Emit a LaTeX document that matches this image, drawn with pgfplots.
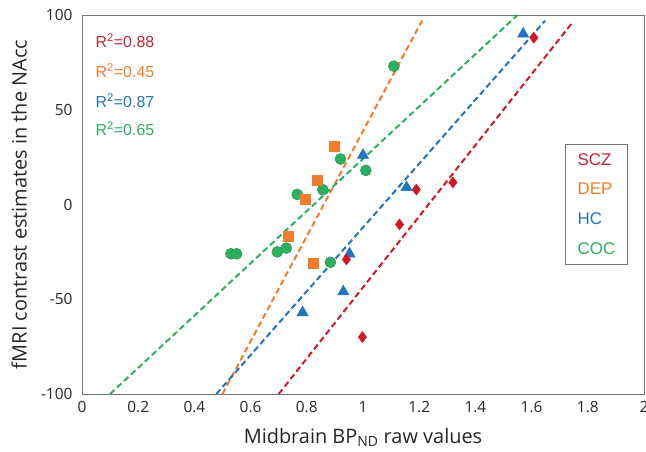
\documentclass[border=0pt]{standalone}
\usepackage{pgfplots}
\pgfplotsset{compat=1.18}
\usepackage{fontspec}
\setmainfont{Open Sans}
\newfontfamily\arial{Liberation Sans}
\definecolor{scz}{RGB}{205,25,40}
\definecolor{sczt}{RGB}{195,35,55}
\definecolor{dep}{RGB}{240,125,45}
\definecolor{hc}{RGB}{35,115,190}
\definecolor{coc}{RGB}{45,175,95}
\definecolor{frame}{RGB}{115,115,115}
\begin{document}
\begin{tikzpicture}
\useasboundingbox (-82bp,-58bp) rectangle (564bp,394bp);
\begin{axis}[
  at={(0,0)}, anchor=south west,
  scale only axis, width=562bp, height=379bp,
  xmin=0, xmax=2, ymin=-100, ymax=100,
  xtick={0,0.2,0.4,0.6,0.8,1,1.2,1.4,1.6,1.8,2},
  xticklabels={0,0.2,0.4,0.6,0.8,1,1.2,1.4,1.6,1.8,2},
  ytick={-100,-50,0,50,100},
  yticklabels={-100,-50,0,50,100},
  major tick length=0pt,
  axis line style={frame, line width=0.9bp},
  tick label style={font=\fontsize{15.5}{17}\selectfont, text=black!85},
  xticklabel style={yshift=-4bp},
  yticklabel style={xshift=-6bp},
  xlabel={Midbrain BP\textsubscript{ND} raw values},
  ylabel={fMRI contrast estimates in the NAcc},
  label style={font=\fontsize{20}{23}\selectfont, text=black!85},
  xlabel style={at={(axis description cs:0.5,-0.1135)}, anchor=center},
  ylabel style={at={(axis description cs:-0.112,0.5)}, anchor=center},
  clip=false,
  legend style={at={(rel axis cs:0.859,0.660)}, anchor=north west,
    draw=frame, line width=0.9bp, font=\arial\fontsize{17}{20}\selectfont,
    row sep=12.5bp, inner xsep=10.5bp, inner ysep=7bp},
  legend cell align=left,
  legend image code/.code={},
]
% regression lines
\addplot[forget plot, scz, line width=2bp, dash pattern=on 6bp off 3.5bp] coordinates {(0.70,-100) (1.745,96)};
\addplot[forget plot, dep, line width=2bp, dash pattern=on 6bp off 3.5bp] coordinates {(0.50,-100) (1.21,97)};
\addplot[forget plot, hc, line width=2bp, dash pattern=on 6bp off 3.5bp] coordinates {(0.478,-100) (1.648,97)};
\addplot[forget plot, coc, line width=2bp, dash pattern=on 6bp off 3.5bp] coordinates {(0.10,-100) (1.55,100)};
% COC
\addplot[forget plot, only marks, mark=*, mark size=5.5bp, coc, mark options={draw=coc!85!black, line width=0.5bp}] coordinates {
 (1.11,73) (0.92,24) (1.01,18) (0.766,5.3) (0.857,7.8) (0.53,-26) (0.55,-26)
 (0.695,-25) (0.727,-23) (0.884,-30.5)};
% DEP
\addplot[forget plot, only marks, mark=square*, mark size=5bp, dep, mark options={line width=0.5bp}] coordinates {
 (0.898,31) (0.838,12.7) (0.795,2.6) (0.735,-17) (0.824,-31)};
% HC
\addplot[forget plot, only marks, mark=triangle*, mark size=6.5bp, hc, mark options={line width=0.5bp}] coordinates {
 (1.57,90) (1.155,9) (1.0,26) (0.952,-26) (0.93,-46) (0.785,-57)};
% SCZ
\addplot[forget plot, only marks, mark=diamond*, mark size=5.5bp, scz, mark options={line width=0.5bp}] coordinates {
 (1.608,88) (1.19,7.9) (1.32,11.6) (1.13,-10.5) (0.941,-29) (0.998,-70)};
\addlegendimage{empty legend}\addlegendentry{\textcolor{sczt}{SCZ}}
\addlegendimage{empty legend}\addlegendentry{\textcolor{dep}{DEP}}
\addlegendimage{empty legend}\addlegendentry{\textcolor{hc}{HC}}
\addlegendimage{empty legend}\addlegendentry{\textcolor{coc}{COC}}
\node[anchor=west, font=\arial\fontsize{16}{18}\selectfont, text=sczt, inner sep=0pt] at (axis cs:0.048,86.5) {R\textsuperscript{2}=0.88};
\node[anchor=west, font=\arial\fontsize{16}{18}\selectfont, text=dep, inner sep=0pt] at (axis cs:0.048,70.7) {R\textsuperscript{2}=0.45};
\node[anchor=west, font=\arial\fontsize{16}{18}\selectfont, text=hc, inner sep=0pt] at (axis cs:0.048,54.9) {R\textsuperscript{2}=0.87};
\node[anchor=west, font=\arial\fontsize{16}{18}\selectfont, text=coc, inner sep=0pt] at (axis cs:0.048,40.1) {R\textsuperscript{2}=0.65};
\end{axis}
\end{tikzpicture}
\end{document}
